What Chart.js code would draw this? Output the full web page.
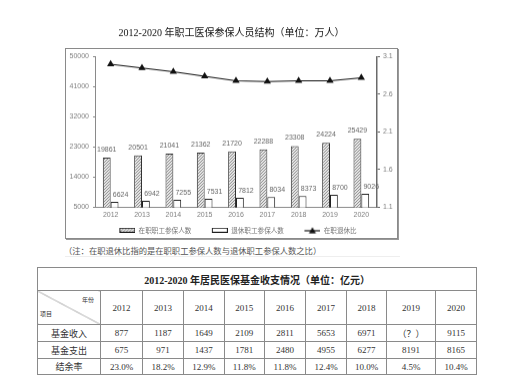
<!DOCTYPE html>
<html><head><meta charset="utf-8">
<script src="https://cdn.jsdelivr.net/npm/chart.js@4/dist/chart.umd.min.js"></script>
<style>
html,body{margin:0;padding:0;background:#fff;}
body{width:519px;height:392px;position:relative;overflow:hidden;font-family:"Noto Sans CJK SC",sans-serif;}
#frame{position:absolute;left:65px;top:48px;width:331px;height:189px;border:1px solid #8a8a8a;box-shadow:1px 1px 0 #9a9a9a;}
#wrap{position:absolute;left:66px;top:20px;width:331px;height:222.5px;}
#note{position:absolute;left:64px;top:244px;font-size:8.3px;line-height:12px;color:#555;white-space:nowrap;}
#noteLine{position:absolute;left:65px;top:256px;width:335px;height:0;border-top:1px solid #eee;}
table{position:absolute;left:37px;top:267px;border-collapse:collapse;table-layout:fixed;width:439px;}
td{border:1px solid #8a8a8a;text-align:center;padding:0;font-size:9px;color:#333;font-family:"Liberation Serif","Noto Sans CJK SC",serif;white-space:nowrap;overflow:hidden;}
td.lab{font-family:"Noto Sans CJK SC",sans-serif;font-size:9px;}
td.title{font-weight:bold;font-size:10px;color:#222;height:22px;}
tr.hdr td{height:33px;}
tr.r1 td,tr.r2 td{height:16px;}
tr.r3 td{height:15px;}
td.diag{position:relative;background:linear-gradient(to top right,transparent calc(50% - 0.6px),#8a8a8a 50%,transparent calc(50% + 0.6px));}
td.diag span{position:absolute;font-family:"Noto Sans CJK SC",sans-serif;font-size:6px;line-height:7px;color:#333;}
</style></head>
<body>
<div id="frame"></div>
<div id="wrap"><canvas id="c"></canvas></div>
<div id="note">（注：在职退休比指的是在职职工参保人数与退休职工参保人数之比）</div>
<div id="noteLine"></div>
<table id="tbl"></table>
<script>
const years = ['2012','2013','2014','2015','2016','2017','2018','2019','2020'];
const activeInsured = [19861,20501,21041,21362,21720,22288,23308,24224,25429];
const retiredInsured = [6624,6942,7255,7531,7812,8034,8373,8700,9026];
const activeRetiredRatio = [3.00,2.95,2.90,2.84,2.78,2.77,2.78,2.78,2.82];
const leftAxisMin = 5000, leftAxisMax = 50000, leftAxisStep = 9000;
const rightAxisMin = 1.1, rightAxisMax = 3.1, rightAxisStep = 0.5;
const seriesNames = ['在职职工参保人数','退休职工参保人数','在职退休比'];
const chartTitle = '2012-2020 年职工医保参保人员结构（单位：万人）';

const tableTitle = '2012-2020 年居民医保基金收支情况（单位：亿元）';
const tableYears = ['2012','2013','2014','2015','2016','2017','2018','2019','2020'];
const fundIncome = ['877','1187','1649','2109','2811','5653','6971','（？）','9115'];
const fundExpense = ['675','971','1437','1781','2480','4955','6277','8191','8165'];
const surplusRate = ['23.0%','18.2%','12.9%','11.8%','11.8%','12.4%','10.0%','4.5%','10.4%'];
const rowNames = ['基金收入','基金支出','结余率'];

// table
(function(){
  const widths=[63,42,41,40.5,40.5,41,41,40,49,41];
  let h='<colgroup>'+widths.map(w=>'<col style="width:'+w+'px">').join('')+'</colgroup>';
  h+='<tr><td class="title" colspan="10">'+tableTitle+'</td></tr>';
  h+='<tr class="hdr"><td class="diag"><span style="right:6px;top:5px">年份</span><span style="left:2px;bottom:7px">项目</span></td>'+tableYears.map(y=>'<td>'+y+'</td>').join('')+'</tr>';
  const rows=[fundIncome,fundExpense,surplusRate];
  rows.forEach((r,i)=>{h+='<tr class="r'+(i+1)+'"><td class="lab">'+rowNames[i]+'</td>'+r.map(v=>'<td>'+v+'</td>').join('')+'</tr>';});
  document.getElementById('tbl').innerHTML=h;
})();

function makeHatch(){
  const p=document.createElement('canvas');p.width=3;p.height=3;
  const x=p.getContext('2d');x.fillStyle='#e6e6e6';x.fillRect(0,0,3,3);
  x.fillStyle='#8c8c8c';x.fillRect(0,2,1,1);x.fillRect(1,1,1,1);x.fillRect(2,0,1,1);
  return x.createPattern(p,'repeat');
}
const hatch=makeHatch();
const GAP=6.5;
function legendBox(fill){
  const c=document.createElement('canvas');c.width=Math.round(16+GAP*2);c.height=5;
  const x=c.getContext('2d');const o=c.width-16;x.fillStyle=fill;x.fillRect(o,0,16,5);
  x.strokeStyle='#222';x.lineWidth=1;x.strokeRect(o+0.5,0.5,15,4);return c;
}
function legendLine(){
  const c=document.createElement('canvas');c.width=Math.round(16+GAP*2);c.height=7;
  const x=c.getContext('2d');const o=c.width-16;x.strokeStyle='#111';x.lineWidth=1.2;
  x.beginPath();x.moveTo(o,4);x.lineTo(o+16,4);x.stroke();
  x.fillStyle='#111';x.beginPath();x.moveTo(o+8,0.5);x.lineTo(o+11.5,6.5);x.lineTo(o+4.5,6.5);x.closePath();x.fill();return c;
}
const legendImgs=[legendBox(hatch),legendBox('#fff'),legendLine()];

const labelPlugin={id:'vals',afterDatasetsDraw(chart){
  const ctx=chart.ctx;ctx.save();ctx.font='7px "Liberation Sans", Arial, sans-serif';ctx.fillStyle='#666';ctx.textAlign='center';ctx.textBaseline='middle';
  chart.getDatasetMeta(1).data.forEach((el,i)=>{ctx.fillText(String(activeInsured[i]),el.x,el.y-8);});
  chart.getDatasetMeta(2).data.forEach((el,i)=>{ctx.fillText(String(retiredInsured[i]),el.x+6,el.y-7);});
  ctx.restore();
}};

const tickFont={family:'"Liberation Sans", Arial, sans-serif',size:7};
new Chart(document.getElementById('c'),{
  data:{labels:years,datasets:[
    {type:'line',label:seriesNames[2],data:activeRetiredRatio,yAxisID:'y1',borderColor:'#111',borderWidth:1.2,backgroundColor:'#111',pointStyle:'triangle',pointRadius:3,pointBackgroundColor:'#111',pointBorderColor:'#111',order:0,tension:0},
    {type:'bar',label:seriesNames[0],data:activeInsured,yAxisID:'y',backgroundColor:hatch,borderColor:'#333',borderWidth:1,categoryPercentage:0.5,barPercentage:1,order:1},
    {type:'bar',label:seriesNames[1],data:retiredInsured,yAxisID:'y',backgroundColor:'#fff',borderColor:'#222',borderWidth:1,categoryPercentage:0.5,barPercentage:1,order:1}
  ]},
  options:{responsive:true,maintainAspectRatio:false,animation:false,
    layout:{padding:{left:0,right:0,top:0,bottom:0}},
    plugins:{tooltip:{enabled:false},
      title:{display:true,text:chartTitle,color:'#111',font:{family:'"Liberation Serif","Noto Sans CJK SC",serif',size:10,weight:'normal'},padding:{top:7,bottom:17.5}},
      legend:{position:'bottom',labels:{usePointStyle:true,pointStyleWidth:Math.round(16+GAP*2),boxHeight:7,padding:7.5,color:'#777',font:{family:'"Noto Sans CJK SC",sans-serif',size:6.6},
        generateLabels:()=>[0,1,2].map(i=>({text:seriesNames[i],pointStyle:legendImgs[i],fontColor:'#777',datasetIndex:[1,2,0][i],hidden:false,lineWidth:0,strokeStyle:'transparent',fillStyle:'transparent'}))}}
    },
    scales:{
      x:{grid:{display:false,drawTicks:false},border:{display:true,color:'#8a8a8a',width:1},ticks:{color:'#808080',font:tickFont,padding:3},afterFit(s){s.height=12;}},
      y:{position:'left',min:leftAxisMin,max:leftAxisMax,ticks:{stepSize:leftAxisStep,color:'#808080',font:tickFont,padding:4,callback:v=>String(v)},grid:{drawOnChartArea:false,drawTicks:true,tickLength:2,color:'#8a8a8a'},border:{display:true,color:'#8a8a8a',width:1},afterFit(s){s.width=29;}},
      y1:{position:'right',min:rightAxisMin,max:rightAxisMax,ticks:{stepSize:rightAxisStep,color:'#808080',font:tickFont,padding:3,callback:v=>Number(v).toFixed(1)},grid:{drawOnChartArea:false,drawTicks:true,tickLength:3,color:'#666'},border:{display:true,color:'#6a6a6a',width:1.5},afterFit(s){s.width=20;}}
    }
  },
  plugins:[labelPlugin]
});
</script>
</body></html>
